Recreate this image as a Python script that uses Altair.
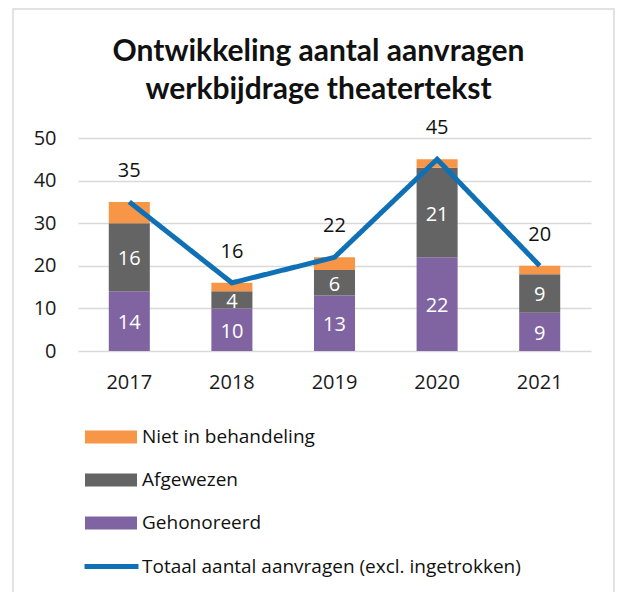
import altair as alt
import pandas as pd

years = ["2017", "2018", "2019", "2020", "2021"]
gehonoreerd = [14, 10, 13, 22, 9]
afgewezen = [16, 4, 6, 21, 9]
niet_in_behandeling = [5, 2, 3, 2, 2]
totaal = [35, 16, 22, 45, 20]

cat_names = ["Niet in behandeling", "Afgewezen", "Gehonoreerd"]
cat_colors = ["#F79646", "#646464", "#8064A2"]
line_name = "Totaal aantal aanvragen (excl. ingetrokken)"
line_color = "#1070B5"

rows = []
for i, y in enumerate(years):
    rows.append({"jaar": y, "categorie": "Gehonoreerd", "aantal": gehonoreerd[i], "rang": 0})
    rows.append({"jaar": y, "categorie": "Afgewezen", "aantal": afgewezen[i], "rang": 1})
    rows.append({"jaar": y, "categorie": "Niet in behandeling", "aantal": niet_in_behandeling[i], "rang": 2})
bars_df = pd.DataFrame(rows)
line_df = pd.DataFrame({"jaar": years, "totaal": totaal, "lijn": [line_name] * len(years)})

FONT = "Open Sans"
TFONT = "Lato"

x_enc = alt.X("jaar:O", title=None,
              scale=alt.Scale(paddingInner=0.6, paddingOuter=0.3),
              axis=alt.Axis(labelAngle=0, labelFontSize=20, labelColor="#1a1a1a",
                            labelFont=FONT, labelPadding=21, ticks=False, domain=False))
y_scale = alt.Scale(domain=[0, 50])

base = alt.Chart(bars_df).transform_stack(
    stack="aantal", groupby=["jaar"], as_=["v0", "v1"],
    sort=[alt.SortField("rang", order="ascending")]
)

frame = alt.Chart(pd.DataFrame({"f": [0]})).mark_rect(
    fill=None, stroke="#d9d9d9", strokeWidth=1.5
).encode(
    x=alt.value(-65), x2=alt.value(536), y=alt.value(-129), y2=alt.value(470)
)

bars = base.mark_bar().encode(
    x=x_enc,
    y=alt.Y("v0:Q", scale=y_scale, title=None,
            axis=alt.Axis(values=[0, 10, 20, 30, 40, 50], labelFontSize=20, labelFont=FONT,
                          labelColor="#1a1a1a", labelPadding=22, ticks=False, domain=False,
                          grid=True, gridColor="#d9d9d9", gridWidth=1.5)),
    y2="v1:Q",
    color=alt.Color("categorie:N", title=None,
                    scale=alt.Scale(domain=cat_names, range=cat_colors),
                    legend=alt.Legend(orient="none", legendX=7, legendY=273, direction="vertical",
                                      symbolType="M-1,-0.25H1V0.25H-1Z", symbolSize=2704,
                                      symbolStrokeWidth=0, symbolOpacity=1,
                                      labelFontSize=19, labelFont=FONT, labelColor="#111",
                                      labelOffset=5, rowPadding=7, padding=0, labelLimit=600)),
)

bar_text = base.transform_filter(
    alt.datum.categorie != "Niet in behandeling"
).transform_calculate(
    mid="(datum.v0 + datum.v1) / 2"
).mark_text(color="white", fontSize=20, font=FONT, baseline="middle", dy=2).encode(
    x=alt.X("jaar:O"),
    y=alt.Y("mid:Q", scale=y_scale),
    text=alt.Text("aantal:Q"),
)

line = alt.Chart(line_df).mark_line(color=line_color, strokeWidth=5).encode(
    x=alt.X("jaar:O"),
    y=alt.Y("totaal:Q", scale=y_scale),
    strokeDash=alt.StrokeDash("lijn:N", title=None,
                              scale=alt.Scale(domain=[line_name], range=[[1, 0]]),
                              legend=alt.Legend(orient="none", legendX=4, legendY=399,
                                                symbolType="stroke", symbolSize=2916,
                                                symbolStrokeColor=line_color, symbolStrokeWidth=5,
                                                labelFontSize=19, labelFont=FONT, labelColor="#111",
                                                labelOffset=1, padding=0, labelLimit=600)),
)

line_text = alt.Chart(line_df).mark_text(color="#111", fontSize=20, font=FONT,
                                          baseline="middle", dy=-31).encode(
    x=alt.X("jaar:O"),
    y=alt.Y("totaal:Q", scale=y_scale),
    text=alt.Text("totaal:Q"),
)

chart = alt.layer(frame, bars, bar_text, line, line_text).properties(
    width=513, height=213,
    title=alt.Title(["Ontwikkeling aantal aanvragen", "werkbijdrage theatertekst"],
                    fontSize=30, font=TFONT, fontWeight="bold", color="#111",
                    anchor="middle", dx=-16, lineHeight=38, offset=-97),
    autosize=alt.AutoSizeParams(type="none"),
    padding={"left": 70, "top": 130, "right": 25, "bottom": 241},
).configure_view(stroke=None).resolve_legend(color="independent", strokeDash="independent")

chart.save("out.html", embed_options={"renderer": "svg", "actions": False})
